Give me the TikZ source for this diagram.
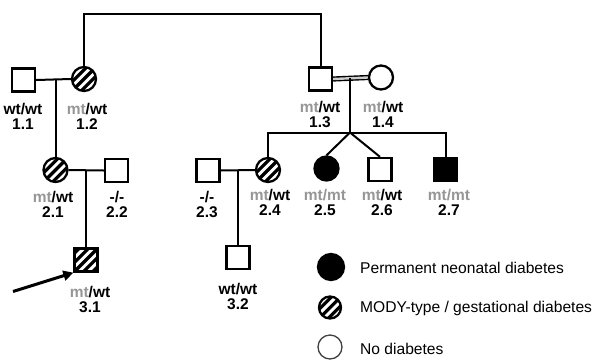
\documentclass[tikz,border=0pt]{standalone}
\usepackage{fontspec}
\setmainfont{Liberation Sans}
\usetikzlibrary{arrows.meta,calc}
\definecolor{mtgray}{RGB}{150,150,150}
\newcommand{\mt}{\textcolor{mtgray}{mt}}
\newcommand{\mtmt}{\textcolor{mtgray}{mt/mt}}
\tikzset{>={Triangle[length=10pt,width=10pt]},
	male/.style={rectangle,draw=black,line width=2.3pt,minimum size=23pt,inner sep=0pt},
	female/.style={circle,draw=black,line width=2.3pt,minimum size=24pt,inner sep=0pt},
	aff/.style={fill=black},
	mody/.style={path picture={
		\foreach \k in {-3,...,3}
			\draw[line width=3.2pt] ([xshift=\k*9.2pt]path picture bounding box.center) ++(-20pt,-20pt) -- ++(40pt,40pt);}},
	tlabel/.style={font=\fontsize{15.5}{15}\selectfont\bfseries,align=center,inner sep=0pt},
	ltext/.style={font=\fontsize{15.6}{18}\selectfont,anchor=west,inner sep=0pt},
	pline/.style={line width=2pt}}

\begin{document}
\begin{tikzpicture}[x=1pt,y=-1pt]
	\useasboundingbox (0,0) rectangle (594,360);
	% generation 1
	\node (p11) at (23.5,80) [male] {};
	\node (p12) at (84,79) [female,mody] {};
	\node (p13) at (320.5,79) [male] {};
	\node (p14) at (381,77.5) [female] {};
	% generation 2
	\node (p21) at (55.5,170) [female,mody] {};
	\node (p22) at (116.5,170.5) [male] {};
	\node (p23) at (208,170.5) [male] {};
	\node (p24) at (268,170) [female,mody] {};
	\node (p25) at (326.5,168.5) [female,aff] {};
	\node (p26) at (380,169.5) [male] {};
	\node (p27) at (445.5,169.5) [male,aff] {};
	% generation 3
	\node (p31) at (86,260) [male,mody] {};
	\node (p32) at (238,257.5) [male] {};
	% genotypes
	\node (l11) at (23,116) [tlabel] {wt/wt\\1.1};
	\node (l12) at (87,116) [tlabel] {\mt/wt\\1.2};
	\node (l13) at (320,114.5) [tlabel] {\mt/wt\\1.3};
	\node (l14) at (383,114.5) [tlabel] {\mt/wt\\1.4};
	\node (l21) at (53,204) [tlabel] {\mt/wt\\2.1};
	\node (l22) at (117,204) [tlabel] {-/-\\2.2};
	\node (l23) at (207,204) [tlabel] {-/-\\2.3};
	\node (l24) at (270,202.5) [tlabel] {\mt/wt\\2.4};
	\node (l25) at (325,202) [tlabel] {\mtmt\\2.5};
	\node (l26) at (382,202) [tlabel] {\mt/wt\\2.6};
	\node (l27) at (449,202) [tlabel] {\mtmt\\2.7};
	\node (l31) at (90,299) [tlabel] {\mt/wt\\3.1};
	\node (l32) at (238,296) [tlabel] {wt/wt\\3.2};
	% lines of descent
	\coordinate (t) at (0,14);
	\coordinate (m1) at (55.5,80);
	\coordinate (m2) at (350,78);
	\coordinate (s2) at (350,132.5);
	\coordinate (m3) at (86,170.5);
	\coordinate (m4) at (238,170.5);
	\draw[pline] (p12.north) -- (p12 |- t) -- (p13 |- t) -- (p13.north);
	\draw[pline] (p11.east) -- (p12.west);
	\draw[pline] (m1) -- (p21.north);
	\draw[line width=1.4pt,double=mtgray!50,double distance=2.4pt] (p13.east) -- (p14.west);
	\draw[pline] (m2) -- (s2);
	\draw[pline] (p24.north) |- (s2) -| (p27.north);
	\draw[pline] (s2) -- (p25.north);
	\draw[pline] (s2) -- (p26.north);
	\draw[pline] (p21.east) -- (p22.west);
	\draw[pline] (m3) -- (p31.north);
	\draw[pline] (p23.east) -- (p24.west);
	\draw[pline] (m4) -- (p32.north);
	% proband
	\coordinate (a0) at (13,291.5);
	\draw[->,line width=3pt] (a0) -- (p31.south west);
	% key
	\node (k1) at (331,267) [female,aff,minimum size=26pt] {};
	\node (k2) at (330,307.5) [female,mody,minimum size=22pt] {};
	\node (k3) at (330,347) [female,draw=black!75,line width=1.3pt,minimum size=24pt] {};
	\node (t1) at (360,268) [ltext] {Permanent neonatal diabetes};
	\node (t2) at (360,308) [ltext] {MODY-type / gestational diabetes};
	\node (t3) at (360,349) [ltext] {No diabetes};
\end{tikzpicture}
\end{document}
